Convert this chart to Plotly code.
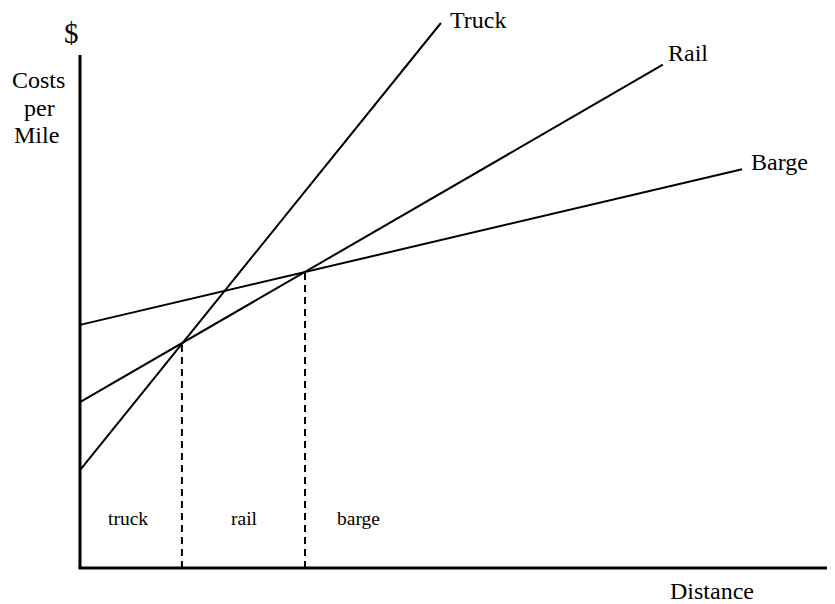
import plotly.graph_objects as go

# Cost lines (distance units 0-100, cost units 0-100): start and end points
modes = ["Truck", "Rail", "Barge"]
x_start = [0, 0, 0]
y_start = [17.25, 29.2, 42.8]
x_end = [47.8, 77.2, 87.7]
y_end = [95.95, 88.6, 70.2]

# Break-even points (dashed verticals)
breakeven_x = [13.5, 29.8]
breakeven_y = [39.7, 52.1]

# Region labels
region_labels = ["truck", "rail", "barge"]
region_x = [6.4, 21.85, 36.9]
region_y = 8.8

# Mode label positions
mode_label_x = [52.7, 80.5, 92.6]
mode_label_y = [96.5, 90.7, 71.5]

FONT = "Liberation Serif, Times New Roman, serif"

fig = go.Figure()

for m, xs, ys, xe, ye in zip(modes, x_start, y_start, x_end, y_end):
    fig.add_trace(go.Scatter(x=[xs, xe], y=[ys, ye], mode="lines",
                             line=dict(color="black", width=2),
                             name=m, showlegend=False, hoverinfo="skip"))

for bx, by in zip(breakeven_x, breakeven_y):
    fig.add_trace(go.Scatter(x=[bx, bx], y=[0, by], mode="lines",
                             line=dict(color="black", width=2, dash="7px,5px"),
                             showlegend=False, hoverinfo="skip"))

# Axes
fig.add_trace(go.Scatter(x=[0, 0], y=[0, 90.3], mode="lines",
                         line=dict(color="black", width=3),
                         showlegend=False, hoverinfo="skip"))
fig.add_trace(go.Scatter(x=[-0.2, 100], y=[0, 0], mode="lines",
                         line=dict(color="black", width=3),
                         showlegend=False, hoverinfo="skip"))

annotations = []
for m, lx, ly in zip(modes, mode_label_x, mode_label_y):
    annotations.append(dict(x=lx, y=ly, text=m, showarrow=False,
                            font=dict(family=FONT, size=24, color="black"),
                            xanchor="center", yanchor="middle"))
for t, rx in zip(region_labels, region_x):
    annotations.append(dict(x=rx, y=region_y, text=t, showarrow=False,
                            font=dict(family=FONT, size=19.5, color="black"),
                            xanchor="center", yanchor="middle"))

annotations.append(dict(x=-1.06, y=94.2, text="$", showarrow=False,
                        font=dict(family=FONT, size=29, color="black"),
                        xanchor="center", yanchor="middle"))
for t, tx, ty in [("Costs", -5.56, 85.9), ("per", -5.4, 81.0), ("Mile", -5.8, 76.2)]:
    annotations.append(dict(x=tx, y=ty, text=t, showarrow=False,
                            font=dict(family=FONT, size=24, color="black"),
                            xanchor="center", yanchor="middle"))
annotations.append(dict(x=83.7, y=-4.05, text="Distance", showarrow=False,
                        font=dict(family=FONT, size=24, color="black"),
                        xanchor="center", yanchor="middle", borderpad=0))

fig.update_layout(
    width=827, height=596,
    margin=dict(l=0, r=0, t=0, b=0),
    paper_bgcolor="white", plot_bgcolor="white",
    xaxis=dict(range=[-9.536, 100.0], visible=False, fixedrange=True),
    yaxis=dict(range=[-6.338, 98.59], visible=False, fixedrange=True),
    annotations=annotations,
    showlegend=False,
)

fig.write_html("out.html")
